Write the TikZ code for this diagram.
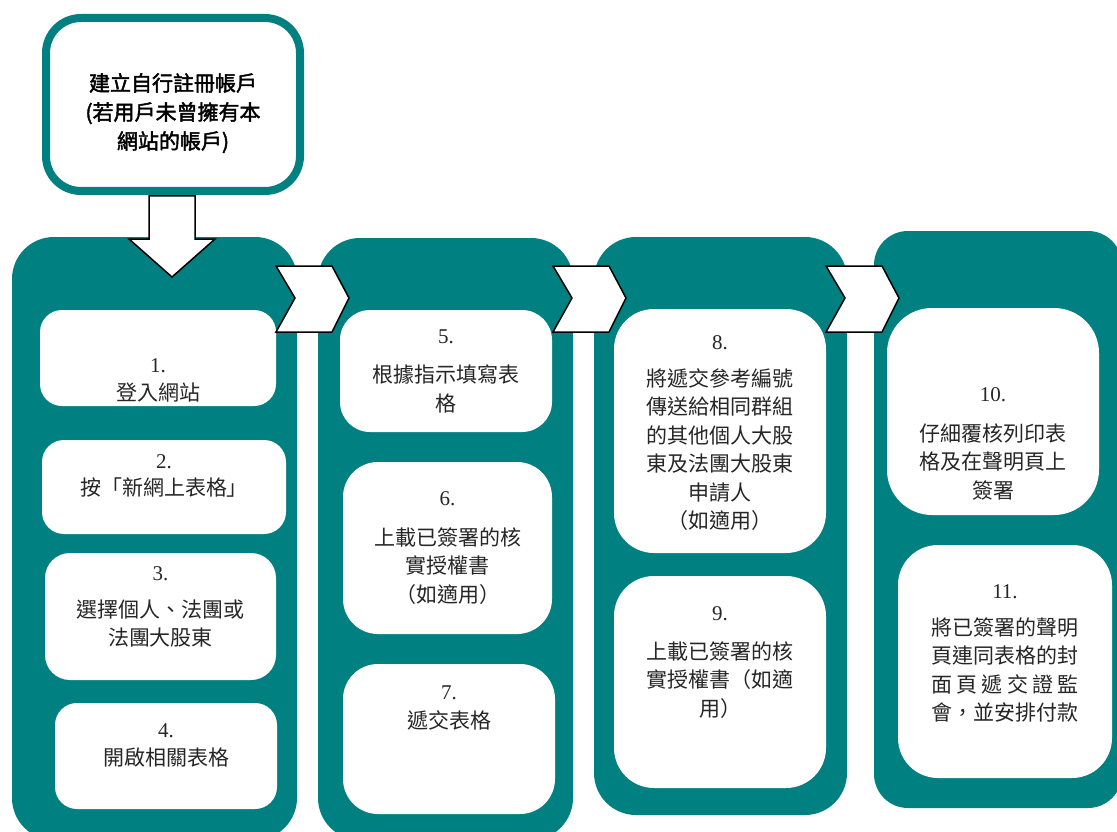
\documentclass[tikz,border=0pt]{standalone}
\usepackage{fontspec}
\setmainfont{Liberation Serif}
\newfontfamily\cjk{Noto Sans CJK TC}
\newfontfamily\cjkbold[FakeBold=2]{Noto Sans CJK TC}
\definecolor{tealbg}{RGB}{0,128,128}
\tikzset{
	colbox/.style={fill=tealbg, rounded corners=#1},
	colbox/.default=42,
	stepbox/.style={fill=white, rounded corners=#1},
	stepbox/.default=35,
	steptext/.style={anchor=north, inner sep=0, align=center, text=black!85, font=\cjk\fontsize{21}{28.5}\selectfont},
	blockarrow/.style={fill=white, draw=black, line width=1.5, line join=miter},
}

\begin{document}
\begin{tikzpicture}[x=1pt,y=-1pt]
	\useasboundingbox (0,0) rectangle (1117,832);
	\clip (0,0) rectangle (1117,832);
	\fill[colbox] (12,237) rectangle (297,840); %列1
	\fill[colbox] (318,238) rectangle (573,840); %列2
	\fill[colbox] (594,237) rectangle (847,815); %列3
	\fill[colbox=34] (874,231) rectangle (1122,808); %列4
	% 步驟
	\node[stepbox=22, minimum width=236, minimum height=96] (s1) at (158,358) {};
	\node[stepbox=22, minimum width=244, minimum height=94] (s2) at (164,487) {};
	\node[stepbox=25, minimum width=231, minimum height=127] (s3) at (160.5,616.5) {};
	\node[stepbox=22, minimum width=222, minimum height=106] (s4) at (166,756) {};
	\node[stepbox=30, minimum width=212, minimum height=122] (s5) at (446,371) {};
	\node[stepbox, minimum width=209, minimum height=172] (s6) at (447.5,548) {};
	\node[stepbox, minimum width=212, minimum height=150] (s7) at (449,739) {};
	\node[stepbox=40, minimum width=212, minimum height=244] (s8) at (720,431) {};
	\node[stepbox=40, minimum width=212, minimum height=212] (s9) at (720,682) {};
	\node[stepbox=45, minimum width=212, minimum height=207] (s10) at (993,411.5) {};
	\node[stepbox=40, minimum width=214, minimum height=233] (s11) at (1005,661.5) {};
	\node[steptext] (t1) at (s1 |- 0,358) {{\rmfamily 1.}\\登入網站};
	\node[steptext] (t2) at (s2 |- 0,454) {{\rmfamily 2.}\\[-1pt]按「新網上表格」};
	\node[steptext] (t3) at (s3 |- 0,566) {{\rmfamily 3.}\\[8.5pt]選擇個人、法團或\\法團大股東};
	\node[steptext] (t4) at (s4 |- 0,723) {{\rmfamily 4.}\\開啟相關表格};
	\node[steptext] (t5) at (s5 |- 0,330) {{\rmfamily 5.}\\[10.5pt]根據指示填寫表\\格};
	\node[steptext] (t6) at (s6 |- 0,491) {{\rmfamily 6.}\\[11.5pt]上載已簽署的核\\實授權書\\（如適用）};
	\node[steptext] (t7) at (s7 |- 0,686) {{\rmfamily 7.}\\遞交表格};
	\node[steptext] (t8) at (s8 |- 0,335) {{\rmfamily 8.}\\[8.5pt]將遞交參考編號\\傳送給相同群組\\的其他個人大股\\東及法團大股東\\申請人\\（如適用）};
	\node[steptext] (t9) at (s9 |- 0,606) {{\rmfamily 9.}\\[10.5pt]上載已簽署的核\\實授權書（如適\\用）};
	\node[steptext] (t10) at (s10 |- 0,387) {{\rmfamily 10.}\\[11.5pt]仔細覆核列印表\\格及在聲明頁上\\簽署};
	\node[steptext] (t11) at (s11 |- 0,584) {{\rmfamily 11.}\\[8.5pt]將已簽署的聲明\\頁連同表格的封\\\makebox[7em][s]{面 頁 遞 交 證 監}\\會，並安排付款};
	% 起點
	\node[draw=tealbg, line width=8, fill=white, rounded corners=35, minimum width=254, minimum height=173] (start) at (173,104.5) {};
	\node[anchor=north, inner sep=0, align=center, font=\cjkbold\fontsize{21}{29}\selectfont] (starttext) at (start |- 0,73) {建立自行註冊帳戶\\(若用戶未曾擁有本\\網站的帳戶)};
	% 箭頭
	\draw[blockarrow] (149,196) -- (149,239) -- (129,239) -- (172,277) -- (215,239) -- (195,239) -- (195,196) -- cycle;
	\foreach \x in {276,553,826}
		\draw[blockarrow] (\x,266) -- ++(56,0) -- ++(17,32) -- ++(-17,34) -- ++(-56,0) -- ++(19,-34) -- cycle;
\end{tikzpicture}
\end{document}
